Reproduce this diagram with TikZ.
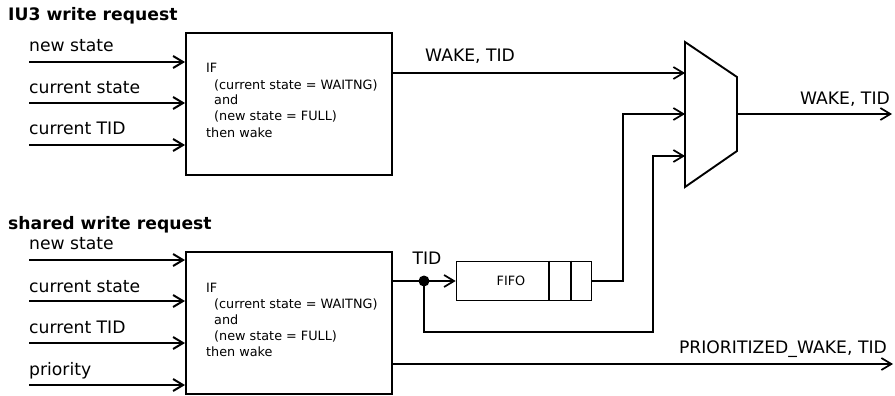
\documentclass[tikz,border=0pt]{standalone}
\usepackage{fontspec}
\setmainfont{DejaVu Sans}
\usetikzlibrary{arrows.meta}
\begin{document}
\begin{tikzpicture}[x=1pt,y=-1pt,
  lbl/.style={font=\fontsize{17.2}{20}\selectfont, inner sep=0pt, anchor=base west},
  ttl/.style={font=\fontsize{17.2}{20}\selectfont\bfseries, inner sep=0pt, anchor=base west},
  cond/.style={font=\fontsize{12.8}{16}\selectfont, inner sep=0pt, anchor=base west},
  blk/.style={draw, line width=2pt, minimum width=206pt, minimum height=142pt, inner sep=0pt},
  sig/.style={line width=2pt, -{Straight Barb[length=10pt,width=12pt]}},
  wire/.style={line width=1.7pt},
  wirea/.style={wire, -{Straight Barb[length=10pt,width=12pt]}},
]
\useasboundingbox (0,0) rectangle (895,396);

% ---------- top block ----------
\node[ttl] (t1) at (8,21) {IU3 write request};
\node[blk] (b1) at (289,104) {};
\node[cond] (c11) at (206,73) {IF};
\node[cond] (c12) at (214,89) {(current state = WAITNG)};
\node[cond] (c13) at (214,105) {and};
\node[cond] (c14) at (214,121) {(new state = FULL)};
\node[cond] (c15) at (206,137) {then wake};

\coordinate (i11) at (29,62);
\coordinate (i12) at (29,103);
\coordinate (i13) at (29,145);
\node[lbl] (l11) at (29,52) {new state};
\node[lbl] (l12) at (29,93) {current state};
\node[lbl] (l13) at (29,135) {current TID};
\draw[sig] (i11) -- (i11 -| b1.west);
\draw[sig] (i12) -- (i12 -| b1.west);
\draw[sig] (i13) -- (i13 -| b1.west);

% ---------- bottom block ----------
\node[ttl] (t2) at (8,229) {shared write request};
\node[blk] (b2) at (289,322.5) {};
\node[cond] (c21) at (206,292) {IF};
\node[cond] (c22) at (214,308) {(current state = WAITNG)};
\node[cond] (c23) at (214,324) {and};
\node[cond] (c24) at (214,340) {(new state = FULL)};
\node[cond] (c25) at (206,356) {then wake};

\coordinate (i21) at (29,260);
\coordinate (i22) at (29,301);
\coordinate (i23) at (29,343);
\coordinate (i24) at (29,385);
\node[lbl] (l21) at (29,249) {new state};
\node[lbl] (l22) at (29,292) {current state};
\node[lbl] (l23) at (29,333) {current TID};
\node[lbl] (l24) at (29,375) {priority};
\draw[sig] (i21) -- (i21 -| b2.west);
\draw[sig] (i22) -- (i22 -| b2.west);
\draw[sig] (i23) -- (i23 -| b2.west);
\draw[sig] (i24) -- (i24 -| b2.west);

% ---------- mux ----------
\coordinate (mA) at (685,42);
\coordinate (mB) at (737,77);
\coordinate (mC) at (737,151);
\coordinate (mD) at (685,187);
\draw[line width=1.9pt, line join=miter] (mA) -- (mB) -- (mC) -- (mD) -- cycle;
\coordinate (m1) at (685,73);
\coordinate (m2) at (685,114);
\coordinate (m3) at (685,156);
\coordinate (mo) at (737,114);
\coordinate (oe) at (892,114);

\draw[wirea] (m1 -| b1.east) -- (m1);
\node[lbl] (w1) at (425,62) {WAKE, TID};
\draw[wirea] (mo) -- (oe);
\node[lbl, anchor=base east] (w2) at (890,104) {WAKE, TID};

% ---------- FIFO ----------
\node[draw, line width=1.6pt, minimum width=135pt, minimum height=39pt, inner sep=0pt] (fifo) at (524,281) {};
\draw[line width=1.6pt] (549,0 |- fifo.north) coordinate (d1) -- (d1 |- fifo.south);
\draw[line width=1.6pt] (571,0 |- fifo.north) coordinate (d2) -- (d2 |- fifo.south);
\node[cond, anchor=center] (ft) at (511,281) {FIFO};

\node[circle, fill, inner sep=0pt, minimum size=11pt] (dot) at (424,281) {};
\node[lbl, anchor=base] (tid) at (427,264) {TID};
\draw[wirea] (dot.center -| b2.east) -- (fifo.west);

\coordinate (k2) at (623,114);
\draw[wirea] (fifo.east) -| (k2) -- (m2);
\coordinate (k3) at (653,332);
\draw[wirea] (dot.center) |- (k3) -- (k3 |- m3) -- (m3);

% ---------- prioritized output ----------
\coordinate (pe) at (893,364);
\draw[wirea] (pe -| b2.east) -- (pe);
\node[lbl, anchor=base east] (pw) at (887,353) {PRIORITIZED\_WAKE, TID};
\end{tikzpicture}
\end{document}
